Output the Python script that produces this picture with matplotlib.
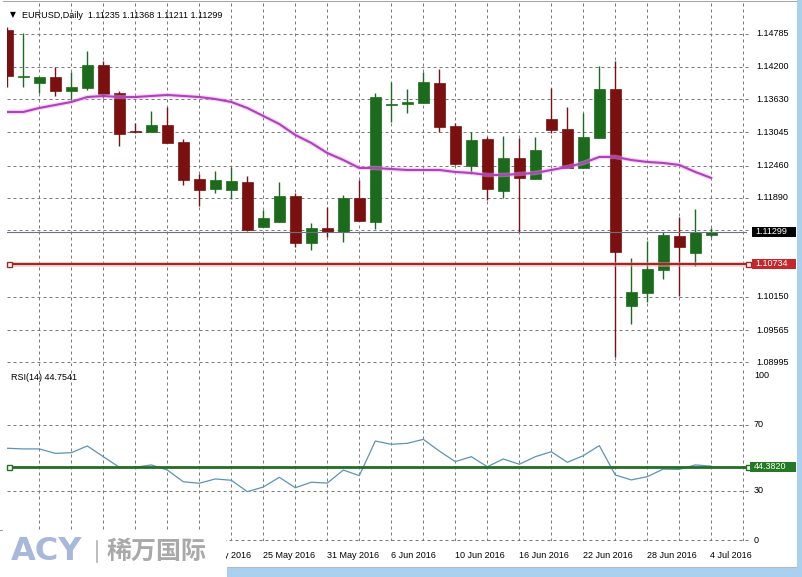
import matplotlib
matplotlib.use('Agg')
from matplotlib import pyplot as plt
from matplotlib import transforms
from matplotlib.patches import Rectangle

plt.rcParams['font.family'] = ['Liberation Sans', 'DejaVu Sans']

# EURUSD 日线, 2016-05-03 .. 2016-07-04 (45 根K线)
opens = [1.14847, 1.14019, 1.13914, 1.14019, 1.13773, 1.13826, 1.14231, 1.13738, 1.13069, 1.13052,
         1.13175, 1.12876, 1.12225, 1.12049, 1.12031, 1.12172, 1.11380, 1.11468, 1.11925, 1.11098,
         1.11362, 1.11292, 1.11890, 1.11468, 1.13527, 1.13544, 1.13562, 1.13914, 1.13157, 1.12453,
         1.12929, 1.12013, 1.12594, 1.12225, 1.13281, 1.13105, 1.12418, 1.12946, 1.13808, 1.09989,
         1.10218, 1.10623, 1.11221, 1.10922, 1.11235]
highs = [1.14899, 1.14794, 1.14019, 1.14195, 1.14107, 1.14477, 1.14301, 1.13773, 1.13210, 1.13421,
         1.13491, 1.12929, 1.12313, 1.12365, 1.12436, 1.12277, 1.11679, 1.12172, 1.11978, 1.11450,
         1.11732, 1.11943, 1.12207, 1.13738, 1.13931, 1.13808, 1.14107, 1.14160, 1.13210, 1.13052,
         1.12964, 1.12981, 1.12946, 1.12964, 1.13826, 1.13491, 1.13386, 1.14213, 1.14301, 1.10834,
         1.11133, 1.11292, 1.11556, 1.11697, 1.11368]
lows = [1.13843, 1.13843, 1.13738, 1.13685, 1.13615, 1.13791, 1.13650, 1.12805, 1.13034, 1.13052,
        1.12858, 1.12119, 1.11749, 1.11978, 1.11873, 1.11309, 1.11380, 1.11468, 1.11028, 1.10975,
        1.11204, 1.11116, 1.11485, 1.11345, 1.13228, 1.13386, 1.13562, 1.13052, 1.12471, 1.12313,
        1.11855, 1.11890, 1.11292, 1.12225, 1.13034, 1.12418, 1.12418, 1.12946, 1.09091, 1.09672,
        1.10059, 1.10465, 1.10165, 1.10693, 1.11211]
closes = [1.14037, 1.14037, 1.14019, 1.13773, 1.13843, 1.14231, 1.13720, 1.13017, 1.13052, 1.13175,
          1.12858, 1.12207, 1.12031, 1.12207, 1.12189, 1.11327, 1.11538, 1.11925, 1.11098, 1.11362,
          1.11292, 1.11890, 1.11485, 1.13667, 1.13544, 1.13579, 1.13931, 1.13140, 1.12489, 1.12911,
          1.12049, 1.12594, 1.12242, 1.12735, 1.13087, 1.12418, 1.12964, 1.13808, 1.10940, 1.10236,
          1.10641, 1.11239, 1.11028, 1.11292, 1.11299]
# 均线
ma = [1.13404, 1.13404, 1.13474, 1.13527, 1.13580, 1.13667, 1.13685, 1.13667, 1.13667, 1.13685,
      1.13703, 1.13685, 1.13667, 1.13632, 1.13580, 1.13474, 1.13333, 1.13192, 1.12999, 1.12858,
      1.12682, 1.12559, 1.12418, 1.12418, 1.12400, 1.12383, 1.12383, 1.12383, 1.12348, 1.12330,
      1.12295, 1.12295, 1.12313, 1.12330, 1.12383, 1.12436, 1.12506, 1.12612, 1.12612, 1.12559,
      1.12524, 1.12506, 1.12471, 1.12348, 1.12242]
# RSI(14)
rsi = [55.6, 55.2, 55.2, 52.5, 52.9, 57.0, 50.5, 44.1, 44.1, 45.5,
       42.4, 35.3, 34.4, 37.0, 36.2, 29.3, 32.1, 38.0, 31.7, 35.0,
       34.5, 42.4, 39.0, 60.0, 58.0, 58.6, 61.0, 53.9, 47.5, 50.5,
       44.4, 49.1, 45.9, 50.5, 53.5, 47.1, 51.1, 57.2, 39.4, 36.4,
       38.4, 43.0, 42.8, 45.5, 44.75]

# 左下角水印挡住了更早的日期
date_idx = [12, 16, 20, 24, 28, 32, 36, 40, 44]
date_labels = ['19 May 2016', '25 May 2016', '31 May 2016', '6 Jun 2016', '10 Jun 2016',
               '16 Jun 2016', '22 Jun 2016', '28 Jun 2016', '4 Jul 2016']
price_ticks = [1.14785, 1.14200, 1.13630, 1.13045, 1.12460, 1.11890, 1.10150, 1.09565, 1.08995]
price_grid = price_ticks + [1.11320, 1.10735]
rsi_ticks = [100, 70, 30, 0]
bid = 1.11299
red_level = 1.10734
rsi_level = 44.3820

W, H = 802, 577
fig = plt.figure(figsize=(W / 100, H / 100), dpi=100, facecolor='white')


def box(x0, y0, x1, y1):
    # 像素坐标(左上为原点) -> figure 比例
    return [x0 / W, 1 - y1 / H, (x1 - x0) / W, (y1 - y0) / H]


ax = fig.add_axes(box(7, 3, 747, 366))
ax2 = fig.add_axes(box(7, 367, 747, 541))
for a in (ax, ax2):
    a.set_xlim(-0.019, 46.23)
    a.axis('off')
ax.set_ylim(1.08933, 1.153218)
ax2.set_ylim(-0.606, 104.85)

grid_col = '#7a7a7a'
dash = (0, (3, 3))
for k in range(2, 47, 2):
    ax.axvline(k, color=grid_col, lw=0.72, ls=dash, zorder=1)
    ax2.axvline(k, color=grid_col, lw=0.72, ls=dash, zorder=1)
ax.hlines(price_grid, -0.019, 46.48, color=grid_col, lw=0.72, ls=dash, zorder=1, clip_on=False)
ax2.hlines([70, 30, 0], -0.019, 46.48, color=grid_col, lw=0.72, ls=dash, zorder=1, clip_on=False)

# K线
up_col = '#1c6b1c'
dn_col = '#7a1010'
for i in range(len(opens)):
    o, h, l, c = opens[i], highs[i], lows[i], closes[i]
    col = up_col if c >= o else dn_col
    ax.vlines(i, l, h, color=col, lw=1, zorder=3)
    ax.bar(i, max(abs(c - o), 0.00002), bottom=min(o, c), width=0.67,
           color=col, edgecolor=col, lw=0.5, zorder=3)

x = list(range(len(ma)))
ax.plot(x, ma, color='#e9a6ee', lw=3.2, alpha=0.45, zorder=4, solid_capstyle='butt')
ax.plot(x, ma, color='#b040bc', lw=1.5, zorder=4)

# 水平线
ax.axhline(bid, color='#6f6f88', lw=0.8, zorder=5)
ax.axhline(red_level, color='#f0b8b8', lw=3.5, alpha=0.5, zorder=5)
ax.axhline(red_level, color='#a02828', lw=1.6, zorder=5)
ax.plot([0.1, 46.3], [red_level, red_level], ls='none', marker='s', ms=3.6,
        mfc='white', mec='#a02828', mew=1, zorder=6, clip_on=False)

ax2.plot(x, rsi, color='#5b93bb', lw=0.9, zorder=3)
ax2.axhline(rsi_level, color='#236e23', lw=2.0, zorder=4)
ax2.plot([0.1, 46.3], [rsi_level, rsi_level], ls='none', marker='s', ms=3.6,
         mfc='white', mec='#236e23', mew=1, zorder=6, clip_on=False)

# 坐标轴标签
tr_p = transforms.blended_transform_factory(fig.transFigure, ax.transData)
tr_r = transforms.blended_transform_factory(fig.transFigure, ax2.transData)
fs = 6.5
for p in price_ticks:
    fig.text(756 / W, p, f'{p:.5f}', transform=tr_p, fontsize=fs, va='center', ha='left')
for v in rsi_ticks:
    fig.text(754 / W, v, str(v), transform=tr_r, fontsize=fs, va='center', ha='left')


def tag(a, tr, level, txt, color, x0):
    # 右侧价格标签(彩色底)
    yc = a.transData.transform((0, level))[1] / H
    r = Rectangle((x0 / W, yc - 5 / H), (796 - x0) / W, 10 / H, transform=fig.transFigure,
                  facecolor=color, edgecolor='none', zorder=3)
    fig.add_artist(r)
    fig.text((x0 + 3.5) / W, level, txt, transform=tr, fontsize=fs, va='center', ha='left',
             color='white', zorder=4)


tag(ax, tr_p, bid, f'{bid:.5f}', 'black', 752)
tag(ax, tr_p, red_level, f'{red_level:.5f}', '#c4282d', 752)
tag(ax2, tr_r, rsi_level, f'{rsi_level:.4f}', '#237a23', 750)

tr_d = transforms.blended_transform_factory(ax2.transData, fig.transFigure)
for k, s in zip(date_idx, date_labels):
    if k == date_idx[-1]:
        fig.text(752 / W, 1 - 555.5 / H, s, fontsize=fs, va='center', ha='right')
    else:
        fig.text(k, 1 - 555.5 / H, s, transform=tr_d, fontsize=fs, va='center', ha='left')

# 标题
fig.text(10 / W, 1 - 14.5 / H, '▼', fontsize=5.5, va='center', ha='left',
         family=['DejaVu Sans'])
fig.text(22 / W, 1 - 15 / H, 'EURUSD,Daily  1.11235 1.11368 1.11211 1.11299',
         fontsize=6.5, va='center', ha='left')
fig.text(11 / W, 1 - 377.5 / H, 'RSI(14) 44.7541', fontsize=6.5, va='center', ha='left')

# 窗口边框
frame = [
    (Rectangle((0, 0), 2.6 / W, 1 - 530 / H), '#9ea3ab'),
    (Rectangle((796.5 / W, 0), 5.5 / W, 1), '#a9d0ee'),
    (Rectangle((227 / W, 0), 575 / W, 9 / H), '#a9d0ee'),
]
for r, c in frame:
    r.set_transform(fig.transFigure)
    r.set_facecolor(c)
    r.set_edgecolor('none')
    r.set_zorder(2)
    fig.add_artist(r)
fig.add_artist(plt.Line2D([3 / W, 796 / W], [1 - 1 / H, 1 - 1 / H], color='#a8a8a8', lw=0.8,
                          transform=fig.transFigure))
fig.add_artist(plt.Line2D([227 / W, 796 / W], [1 - 567 / H, 1 - 567 / H], color='#b8b8b8',
                          lw=0.8, transform=fig.transFigure))

# 水印
logo = Rectangle((0, 0), 226 / W, 1 - 531 / H, transform=fig.transFigure,
                 facecolor='white', edgecolor='none', zorder=8)
fig.add_artist(logo)
fig.text(11 / W, 1 - 552 / H, 'ACY', fontsize=23, fontweight='bold', color='#a7b8da',
         va='center', ha='left', family=['DejaVu Sans'], zorder=9)
fig.add_artist(plt.Line2D([97 / W, 97 / W], [1 - 541 / H, 1 - 562 / H], color='#b0b0b0',
                          lw=1.2, transform=fig.transFigure, zorder=9))
fig.text(107 / W, 1 - 552 / H, '稀万国际', fontsize=18, fontweight='bold', color='#a9a9a9',
         va='center', ha='left', family=['Noto Sans CJK SC'], zorder=9)

fig.savefig('out.png', dpi=100, facecolor='white')
